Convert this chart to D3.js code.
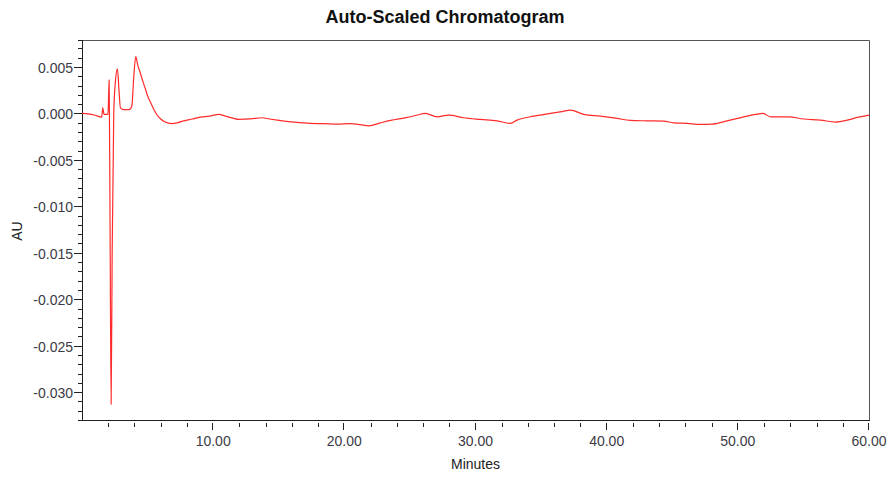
<!DOCTYPE html>
<html>
<head>
<meta charset="utf-8">
<script src="https://cdn.jsdelivr.net/npm/d3@7"></script>
<style>
  html, body { margin: 0; padding: 0; background: #fff; }
  svg { display: block; font-family: "Liberation Sans", Arial, sans-serif; }
</style>
</head>
<body>
<svg id="chart" width="892" height="478"></svg>
<script>
// Detector trace: retention time (minutes) and absorbance (AU)
const minutes = [
  0.0, 0.5, 1.0, 1.5, 1.58, 1.68, 1.85, 1.98, 2.07, 2.14, 2.22, 2.30, 2.42, 2.55, 2.70,
  2.82, 2.93, 3.2, 3.6, 3.8, 3.95, 4.10, 4.25, 4.46, 4.65, 4.84, 5.0, 5.22, 5.45, 5.73,
  6.0, 6.3, 6.87, 7.3, 7.76, 8.4, 9.03, 9.7, 10.43, 10.94, 11.5, 11.95, 12.84, 13.73,
  14.3, 14.88, 16.14, 17.42, 18.43, 19.45, 20.46, 21.2, 21.86, 22.75, 23.52, 24.79,
  25.5, 26.18, 27.07, 27.96, 29.1, 30.37, 31.65, 32.66, 33.17, 34.44, 35.96, 36.6,
  37.23, 38.25, 39.52, 40.79, 41.8, 43.08, 44.35, 45.11, 46.13, 47.14, 48.04, 49.18,
  50.45, 51.34, 51.93, 52.49, 53.87, 55.02, 56.3, 57.44, 58.34, 59.2, 60.0
];
const absorbance = [
  0.0, -0.00005, -0.0002, -0.0004, 0.0006, -0.0001, -0.0001, -0.0001, 0.0036, -0.012,
  -0.0313, -0.015, 0.0, 0.0035, 0.0048, 0.0025, 0.0006, 0.0004, 0.0004, 0.0008, 0.004,
  0.0061, 0.0052, 0.0043, 0.0034, 0.0026, 0.0019, 0.0012, 0.0005, -0.0002, -0.0006,
  -0.0009, -0.0011, -0.0010, -0.0008, -0.0006, -0.0004, -0.0003, -0.0001, -0.0003,
  -0.0005, -0.00065, -0.0006, -0.00047, -0.0006, -0.00072, -0.00094, -0.00108, -0.0011,
  -0.00116, -0.0011, -0.0012, -0.00134, -0.00102, -0.00076, -0.00043, -0.0002, 0.0,
  -0.00037, -0.00018, -0.00047, -0.00065, -0.0008, -0.00108, -0.00072, -0.0003, 0.00006,
  0.0002, 0.00036, -0.00011, -0.0003, -0.00054, -0.00076, -0.0008, -0.00083, -0.00102,
  -0.00108, -0.00119, -0.00116, -0.0008, -0.00037, -0.00011, 0.0, -0.00037, -0.00037,
  -0.0006, -0.00072, -0.00094, -0.00072, -0.0004, -0.00018
];

// Axis ticks
const xMajorTicks = [10, 20, 30, 40, 50, 60];
const xTickLabels = ["10.00", "20.00", "30.00", "40.00", "50.00", "60.00"];
const xMinorTicks = d3.range(2, 60, 2);
const yMajorTicks = [0.005, 0.000, -0.005, -0.010, -0.015, -0.020, -0.025, -0.030];
const yTickLabels = ["0.005", "0.000", "-0.005", "-0.010", "-0.015", "-0.020", "-0.025", "-0.030"];
const yMinorTicks = d3.range(-33, 9).map(d => d / 1000);

const titleText = "Auto-Scaled Chromatogram";
const xTitle = "Minutes";
const yTitle = "AU";

const svg = d3.select("#chart");
const plotLeft = 82, plotRight = 869, plotTop = 40, plotBottom = 420;

const x = d3.scaleLinear().domain([0, 60]).range([plotLeft, plotRight]);
const y = d3.scaleLinear().domain([-0.0330, 0.0079]).range([plotBottom, plotTop]);

const tickColor = "#222";
const labelColor = "#3b3b45";

// Frame: top and right edges
svg.append("path")
  .attr("d", `M${plotLeft},${plotTop + 0.5}H${plotRight + 0.5}V${plotBottom}`)
  .attr("fill", "none").attr("stroke", "#555").attr("stroke-width", 1);

// Left axis
const yAxis = svg.append("g");
yAxis.append("line")
  .attr("x1", plotLeft + 0.5).attr("x2", plotLeft + 0.5)
  .attr("y1", plotTop).attr("y2", plotBottom + 1)
  .attr("stroke", tickColor);
yAxis.selectAll("line.minor")
  .data(yMinorTicks.filter(d => y(d) >= plotTop - 1.5 && y(d) <= plotBottom + 0.5))
  .join("line").attr("class", "minor")
  .attr("x1", plotLeft - 4).attr("x2", plotLeft)
  .attr("y1", d => Math.min(Math.max(Math.round(y(d)), plotTop), plotBottom) + 0.5)
  .attr("y2", d => Math.min(Math.max(Math.round(y(d)), plotTop), plotBottom) + 0.5)
  .attr("stroke", tickColor);
yAxis.selectAll("line.major")
  .data(yMajorTicks)
  .join("line").attr("class", "major")
  .attr("x1", plotLeft - 8).attr("x2", plotLeft)
  .attr("y1", d => Math.round(y(d)) + 0.5).attr("y2", d => Math.round(y(d)) + 0.5)
  .attr("stroke", tickColor);
yAxis.selectAll("text")
  .data(yMajorTicks)
  .join("text")
  .attr("x", plotLeft - 9).attr("y", d => y(d) + 6)
  .attr("text-anchor", "end")
  .attr("font-size", 14).attr("fill", labelColor)
  .text((d, i) => yTickLabels[i]);

// Bottom axis
const xAxis = svg.append("g");
xAxis.append("line")
  .attr("x1", plotLeft).attr("x2", plotRight + 1)
  .attr("y1", plotBottom + 0.5).attr("y2", plotBottom + 0.5)
  .attr("stroke", tickColor);
xAxis.selectAll("line.minor")
  .data(xMinorTicks.filter(d => d % 10 !== 0))
  .join("line").attr("class", "minor")
  .attr("x1", d => Math.round(x(d)) + 0.5).attr("x2", d => Math.round(x(d)) + 0.5)
  .attr("y1", plotBottom + 3).attr("y2", plotBottom + 7)
  .attr("stroke", tickColor);
xAxis.selectAll("line.major")
  .data(xMajorTicks)
  .join("line").attr("class", "major")
  .attr("x1", d => Math.round(x(d)) - 0.5).attr("x2", d => Math.round(x(d)) - 0.5)
  .attr("y1", plotBottom + 3).attr("y2", plotBottom + 10)
  .attr("stroke", tickColor);
xAxis.selectAll("text")
  .data(xMajorTicks)
  .join("text")
  .attr("x", d => x(d)).attr("y", 446)
  .attr("text-anchor", "middle")
  .attr("font-size", 14).attr("fill", labelColor)
  .text((d, i) => xTickLabels[i]);

// Axis titles
svg.append("text")
  .attr("x", (plotLeft + plotRight) / 2).attr("y", 469)
  .attr("text-anchor", "middle").attr("font-size", 14).attr("fill", "#222")
  .text(xTitle);
svg.append("text")
  .attr("transform", "translate(22,231) rotate(-90)")
  .attr("text-anchor", "middle").attr("font-size", 14).attr("fill", "#222")
  .text(yTitle);

// Chart title
svg.append("text")
  .attr("x", 445).attr("y", 23)
  .attr("text-anchor", "middle").attr("font-size", 18).attr("font-weight", "bold")
  .attr("fill", "#111")
  .text(titleText);

// Trace
const data = minutes.map((t, i) => ({ t, v: absorbance[i] }));
const line = d3.line().curve(d3.curveMonotoneX).x(d => x(d.t)).y(d => y(d.v));
svg.append("path")
  .datum(data)
  .attr("d", line)
  .attr("fill", "none")
  .attr("stroke", "#ff2b2b")
  .attr("stroke-width", 1.2)
  .attr("stroke-linejoin", "round");
</script>
</body>
</html>
